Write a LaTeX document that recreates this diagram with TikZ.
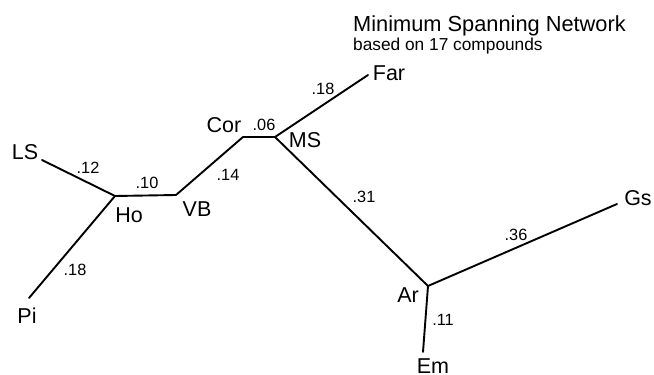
\documentclass[tikz,border=0pt]{standalone}
\usepackage{fontspec}
\setmainfont{Liberation Sans}
\begin{document}
\begin{tikzpicture}[x=1pt,y=-1pt,
  branch/.style={line width=1.9pt,line cap=round,line join=round},
  taxon/.style={anchor=base,inner sep=0pt,font=\fontsize{21.5}{24}\selectfont},
  dist/.style={anchor=base,inner sep=0pt,font=\fontsize{16.3}{19}\selectfont},
  heading/.style={anchor=base west,inner sep=0pt}]
\useasboundingbox (0,0) rectangle (654,375);

% junctions and branch tips
\coordinate (ls) at (42,160);
\coordinate (ho) at (115,196);
\coordinate (vb) at (176,195);
\coordinate (cor) at (243,137);
\coordinate (ms) at (275,137);
\coordinate (far) at (368,75);
\coordinate (pi) at (29,298);
\coordinate (ar) at (428,286);
\coordinate (gs) at (617,204);
\coordinate (em) at (423,352);

% branches of the network
\draw[branch] (ls) -- (ho);
\draw[branch] (pi) -- (ho);
\draw[branch] (ho) -- (vb);
\draw[branch] (vb) -- (cor);
\draw[branch] (cor) -- (ms);
\draw[branch] (ms) -- (far);
\draw[branch] (ms) -- (ar);
\draw[branch] (ar) -- (gs);
\draw[branch] (ar) -- (em);

% taxon names
\node[taxon] (tLS) at (25,159) {LS};
\node[taxon] (tHo) at (129,222) {Ho};
\node[taxon] (tVB) at (197,216) {VB};
\node[taxon] (tPi) at (27,323) {Pi};
\node[taxon] (tCor) at (224,132) {Cor};
\node[taxon] (tMS) at (305,147) {MS};
\node[taxon] (tFar) at (389,80) {Far};
\node[taxon] (tGs) at (638,205) {Gs};
\node[taxon] (tAr) at (408,302) {Ar};
\node[taxon] (tEm) at (433,373) {Em};

% branch lengths
\node[dist] (d1) at (88,173) {.12};
\node[dist] (d2) at (147,188) {.10};
\node[dist] (d3) at (228,180) {.14};
\node[dist] (d4) at (75,275) {.18};
\node[dist] (d5) at (264,130) {.06};
\node[dist] (d6) at (323,94) {.18};
\node[dist] (d7) at (364,202) {.31};
\node[dist] (d8) at (516,240) {.36};
\node[dist] (d9) at (443,325) {.11};

% heading
\node[heading,font=\fontsize{21.8}{24}\selectfont] (title) at (353,31) {Minimum Spanning Network};
\node[heading,font=\fontsize{17.3}{20}\selectfont] (subtitle) at (353,50) {based on 17 compounds};
\end{tikzpicture}
\end{document}
